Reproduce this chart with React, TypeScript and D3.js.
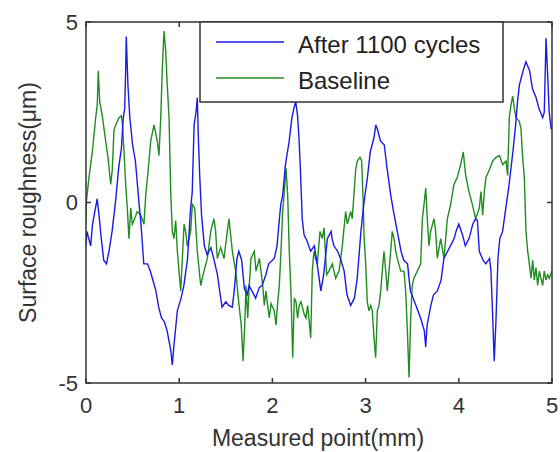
import * as d3 from "d3";
import { useEffect, useRef } from "react";

// values: [measured point (mm), roughness (um)]
const afterCycles: [number, number][] = [
  [0, -1.2], [0.01, -0.8], [0.05, -1.2], [0.07, -0.6], [0.12, 0.1], [0.14, -0.35], [0.16, -0.9],
  [0.19, -1.6], [0.22, -1.7], [0.25, -1.3], [0.28, -0.8], [0.32, 0.1], [0.35, 0.95], [0.38, 1.5],
  [0.4, 2.35], [0.415, 2.6], [0.426, 3.7], [0.432, 4.6], [0.45, 3.25], [0.47, 2.35], [0.5, 1.6],
  [0.53, 1.15], [0.57, -0.05], [0.59, -0.6], [0.62, -1.7], [0.66, -1.7], [0.69, -1.9], [0.75, -2.45],
  [0.78, -2.9], [0.81, -3.2], [0.84, -3.3], [0.87, -3.55], [0.91, -4.1], [0.926, -4.5], [0.944, -3.95],
  [0.98, -3.0], [1.02, -2.65], [1.05, -2.3], [1.09, -1.55], [1.12, -0.25], [1.14, 0.3], [1.16, 2.15],
  [1.18, 2.5], [1.194, 2.9], [1.205, 1.85], [1.22, 0.75], [1.24, -0.35], [1.27, -1.2], [1.3, -1.45],
  [1.34, -1.25], [1.37, -1.55], [1.41, -2.0], [1.44, -2.55], [1.46, -2.9], [1.5, -2.75], [1.53, -2.85],
  [1.57, -2.9], [1.59, -2.45], [1.62, -1.55], [1.64, -1.35], [1.67, -1.6], [1.7, -2.4], [1.73, -2.55],
  [1.75, -2.3], [1.78, -2.45], [1.82, -2.65], [1.86, -2.35], [1.89, -2.3], [1.93, -2.0], [1.96, -1.7],
  [2.02, -1.55], [2.05, -1.2], [2.07, -0.6], [2.09, -0.05], [2.11, 0.2], [2.14, 1.05], [2.18, 1.7],
  [2.2, 2.15], [2.21, 2.35], [2.23, 2.6], [2.25, 2.8], [2.27, 2.4], [2.285, 1.8], [2.3, 0.95],
  [2.32, -0.45], [2.34, -0.9], [2.37, -1.05], [2.41, -1.35], [2.45, -1.2], [2.48, -1.7], [2.52, -2.45],
  [2.55, -2.0], [2.57, -1.5], [2.59, -1.0], [2.63, -0.8], [2.64, -1.0], [2.66, -1.2], [2.7, -1.35],
  [2.73, -1.55], [2.77, -1.9], [2.8, -2.55], [2.84, -2.85], [2.88, -2.65], [2.91, -2.1], [2.95, -0.8],
  [2.98, -0.05], [3.02, 0.7], [3.05, 1.4], [3.09, 1.8], [3.11, 2.15], [3.13, 2.0], [3.16, 1.7],
  [3.2, 1.6], [3.23, 0.95], [3.27, 0.2], [3.3, -0.25], [3.34, -0.8], [3.38, -1.35], [3.41, -1.6],
  [3.45, -1.7], [3.48, -2.45], [3.54, -2.85], [3.59, -3.2], [3.63, -3.55], [3.645, -4.0], [3.66, -3.4],
  [3.7, -2.85], [3.73, -2.55], [3.77, -2.45], [3.81, -2.15], [3.84, -1.55], [3.88, -1.35], [3.91, -1.2],
  [3.95, -1.0], [3.97, -0.8], [4.0, -0.6], [4.04, -0.9], [4.07, -1.2], [4.11, -1.0], [4.15, -0.6],
  [4.18, -0.45], [4.2, -0.5], [4.22, -1.35], [4.26, -1.6], [4.29, -1.7], [4.33, -1.55], [4.345, -1.9],
  [4.364, -3.2], [4.38, -4.4], [4.4, -3.2], [4.42, -1.55], [4.44, -1.0], [4.47, -0.8], [4.51, -0.05],
  [4.54, 0.5], [4.58, 1.4], [4.61, 2.15], [4.63, 2.8], [4.65, 3.25], [4.69, 3.65], [4.72, 3.9],
  [4.76, 3.65], [4.79, 3.15], [4.83, 2.9], [4.86, 2.6], [4.9, 2.35], [4.917, 2.5], [4.936, 4.55],
  [4.954, 3.5], [4.97, 2.5], [4.99, 2.05], [5.0, 2.05],
];

const baseline: [number, number][] = [
  [0, -0.6], [0.005, 0.05], [0.032, 0.7], [0.068, 1.4], [0.104, 2.35], [0.121, 2.7], [0.132, 3.65],
  [0.147, 2.8], [0.175, 2.4], [0.211, 1.7], [0.236, 1.25], [0.265, 0.5], [0.282, 0.9], [0.3, 2.0],
  [0.319, 2.15], [0.354, 2.35], [0.379, 2.4], [0.39, 2.2], [0.408, 1.4], [0.426, 0.5], [0.443, -0.15],
  [0.461, -1.0], [0.48, -0.15], [0.497, -0.6], [0.515, -0.5], [0.55, -0.25], [0.587, -0.35], [0.622, -0.6],
  [0.641, 0.2], [0.676, 1.15], [0.694, 1.7], [0.73, 2.15], [0.765, 1.7], [0.783, 1.3], [0.802, 2.35],
  [0.818, 3.65], [0.837, 4.75], [0.855, 4.2], [0.872, 3.25], [0.891, 2.35], [0.909, 0.3], [0.926, -0.8],
  [0.944, -1.0], [0.962, -0.5], [0.98, -1.35], [0.998, -1.9], [1.016, -2.45], [1.034, -1.55], [1.052, -0.6],
  [1.069, -0.8], [1.087, -1.2], [1.123, -0.8], [1.141, -0.05], [1.166, -0.15], [1.194, -1.35], [1.231, -2.3],
  [1.248, -2.1], [1.266, -1.9], [1.302, -1.55], [1.338, -0.8], [1.373, -0.45], [1.391, -0.8], [1.409, -1.55],
  [1.445, -1.25], [1.481, -1.55], [1.516, -0.8], [1.534, -0.45], [1.57, -1.35], [1.606, -1.9], [1.642, -2.85],
  [1.666, -3.4], [1.685, -4.4], [1.703, -3.4], [1.717, -2.3], [1.735, -3.2], [1.752, -2.3], [1.77, -1.55],
  [1.806, -1.35], [1.824, -1.9], [1.86, -1.55], [1.878, -1.9], [1.896, -2.3], [1.913, -2.85], [1.931, -2.45],
  [1.949, -2.85], [1.967, -3.2], [1.985, -2.8], [2.02, -3.0], [2.039, -3.4], [2.056, -2.8], [2.074, -2.3],
  [2.092, -1.35], [2.11, -0.25], [2.128, 0.3], [2.146, 0.95], [2.164, 0.2], [2.181, -1.35], [2.2, -2.55],
  [2.218, -4.3], [2.235, -2.65], [2.253, -2.75], [2.27, -3.2], [2.288, -2.85], [2.307, -2.75], [2.342, -3.1],
  [2.36, -3.2], [2.378, -2.85], [2.411, -3.75], [2.428, -1.9], [2.446, -1.35], [2.464, -1.55], [2.482, -1.7],
  [2.511, -0.8], [2.535, -1.0], [2.554, -0.7], [2.582, -2.0], [2.607, -1.9], [2.643, -1.7], [2.679, -2.1],
  [2.715, -1.9], [2.75, -1.2], [2.786, -0.25], [2.804, -0.6], [2.84, -0.25], [2.857, -0.45], [2.893, 0.9],
  [2.911, 1.15], [2.94, 1.25], [2.958, 1.15], [2.975, -0.05], [2.983, -0.9], [3.001, -1.7], [3.018, -2.75],
  [3.036, -3.0], [3.055, -2.85], [3.072, -3.0], [3.09, -3.75], [3.108, -4.3], [3.126, -3.0], [3.144, -2.85],
  [3.162, -2.45], [3.179, -1.9], [3.197, -1.35], [3.216, -1.9], [3.233, -2.45], [3.251, -1.9], [3.269, -1.35],
  [3.286, -0.8], [3.305, -1.0], [3.323, -1.35], [3.34, -1.55], [3.377, -1.9], [3.412, -1.9], [3.43, -2.45],
  [3.448, -3.55], [3.466, -4.85], [3.484, -3.2], [3.5, -2.3], [3.519, -2.1], [3.555, -1.9], [3.591, -1.7],
  [3.609, -0.45], [3.627, -0.05], [3.645, 0.4], [3.662, -0.45], [3.68, -1.2], [3.698, -0.8], [3.734, -0.45],
  [3.752, -0.8], [3.769, -1.55], [3.806, -1.0], [3.841, -1.55], [3.877, -0.45], [3.913, -0.05], [3.948, 0.5],
  [3.966, 0.6], [3.984, 0.7], [4.02, 1.05], [4.048, 1.4], [4.074, 0.75], [4.109, 0.3], [4.145, -0.05],
  [4.181, -0.45], [4.22, -0.15], [4.238, 0.3], [4.256, -0.35], [4.274, 0.3], [4.292, 0.7], [4.327, 0.9],
  [4.364, 1.15], [4.399, 1.25], [4.435, 1.3], [4.471, 1.05], [4.506, 1.15], [4.524, 0.75], [4.542, 2.35],
  [4.56, 2.7], [4.578, 2.95], [4.596, 2.6], [4.614, 2.35], [4.649, 2.25], [4.667, 2.05], [4.685, 1.25],
  [4.703, 0.7], [4.721, -0.8], [4.739, -1.35], [4.757, -1.7], [4.775, -2.1], [4.793, -1.6], [4.81, -2.15],
  [4.828, -1.8], [4.846, -2.3], [4.864, -1.9], [4.882, -2.1], [4.9, -2.3], [4.917, -1.9], [4.936, -2.15],
  [4.954, -2.0], [4.971, -2.1], [5.0, -1.9],
];

const xTicks = [0, 1, 2, 3, 4, 5];
const yTicks = [-5, 0, 5];
const seriesNames = ["After 1100 cycles", "Baseline"];
const seriesColors = ["#1a1ae6", "#218c21"];

const App = () => {
  const ref = useRef<SVGSVGElement>(null);

  useEffect(() => {
    const svg = d3.select(ref.current);
    svg.selectAll("*").remove();

    const left = 86, right = 552, top = 22, bottom = 383;
    const font = "Arial, 'Liberation Sans', sans-serif";

    const x = d3.scaleLinear().domain([0, 5]).range([left, right]);
    const y = d3.scaleLinear().domain([-5, 5]).range([bottom, top]);

    svg.append("rect")
      .attr("x", 0).attr("y", 0).attr("width", 560).attr("height", 452)
      .attr("fill", "#fff");

    svg.append("clipPath").attr("id", "plotclip")
      .append("rect")
      .attr("x", left).attr("y", top)
      .attr("width", right - left).attr("height", bottom - top);

    const line = d3.line<[number, number]>()
      .x((d) => x(d[0]))
      .y((d) => y(d[1]));

    // baseline drawn first, blue on top where they cross
    const g = svg.append("g").attr("clip-path", "url(#plotclip)");
    g.append("path")
      .datum(baseline)
      .attr("d", line)
      .attr("fill", "none")
      .attr("stroke", seriesColors[1])
      .attr("stroke-width", 1.4);
    g.append("path")
      .datum(afterCycles)
      .attr("d", line)
      .attr("fill", "none")
      .attr("stroke", seriesColors[0])
      .attr("stroke-width", 1.4);

    // frame with inward ticks on every side
    svg.append("rect")
      .attr("x", left).attr("y", top)
      .attr("width", right - left).attr("height", bottom - top)
      .attr("fill", "none").attr("stroke", "#333").attr("stroke-width", 1.5);

    const tickLen = 5;
    xTicks.forEach((t) => {
      svg.append("line")
        .attr("x1", x(t)).attr("x2", x(t)).attr("y1", bottom).attr("y2", bottom - tickLen)
        .attr("stroke", "#333").attr("stroke-width", 1.5);
      svg.append("line")
        .attr("x1", x(t)).attr("x2", x(t)).attr("y1", top).attr("y2", top + tickLen)
        .attr("stroke", "#333").attr("stroke-width", 1.5);
      svg.append("text")
        .attr("x", x(t)).attr("y", 413)
        .attr("text-anchor", "middle")
        .attr("font-family", font).attr("font-size", 22).attr("fill", "#333")
        .text(t);
    });
    yTicks.forEach((t) => {
      svg.append("line")
        .attr("x1", left).attr("x2", left + tickLen).attr("y1", y(t)).attr("y2", y(t))
        .attr("stroke", "#333").attr("stroke-width", 1.5);
      svg.append("line")
        .attr("x1", right).attr("x2", right - tickLen).attr("y1", y(t)).attr("y2", y(t))
        .attr("stroke", "#333").attr("stroke-width", 1.5);
      svg.append("text")
        .attr("x", 78).attr("y", y(t))
        .attr("dy", "0.36em")
        .attr("text-anchor", "end")
        .attr("font-family", font).attr("font-size", 22).attr("fill", "#333")
        .text(t);
    });

    // axis titles
    svg.append("text")
      .attr("x", (left + right) / 2 - 1).attr("y", 446)
      .attr("text-anchor", "middle")
      .attr("font-family", font).attr("font-size", 23).attr("fill", "#333")
      .text("Measured point(mm)");
    svg.append("text")
      .attr("transform", "translate(36," + (top + bottom) / 2 + ") rotate(-90)")
      .attr("text-anchor", "middle")
      .attr("font-family", font).attr("font-size", 23).attr("fill", "#333")
      .text("Surface roughness(μm)");

    // legend
    const lg = svg.append("g");
    lg.append("rect")
      .attr("x", 200).attr("y", top)
      .attr("width", 303).attr("height", 80)
      .attr("fill", "#fff").attr("stroke", "#333").attr("stroke-width", 1.5);
    seriesNames.forEach((name, i) => {
      const ly = 42 + i * 36;
      lg.append("line")
        .attr("x1", 216).attr("x2", 284).attr("y1", ly).attr("y2", ly)
        .attr("stroke", seriesColors[i]).attr("stroke-width", 1.6);
      lg.append("text")
        .attr("x", 298).attr("y", ly + 11)
        .attr("font-family", font).attr("font-size", 24).attr("fill", "#222")
        .text(name);
    });
  }, []);

  return (
    <svg
      ref={ref}
      width={560}
      height={452}
      style={{ position: "absolute", left: 0, top: 0 }}
    />
  );
};

export default App;
